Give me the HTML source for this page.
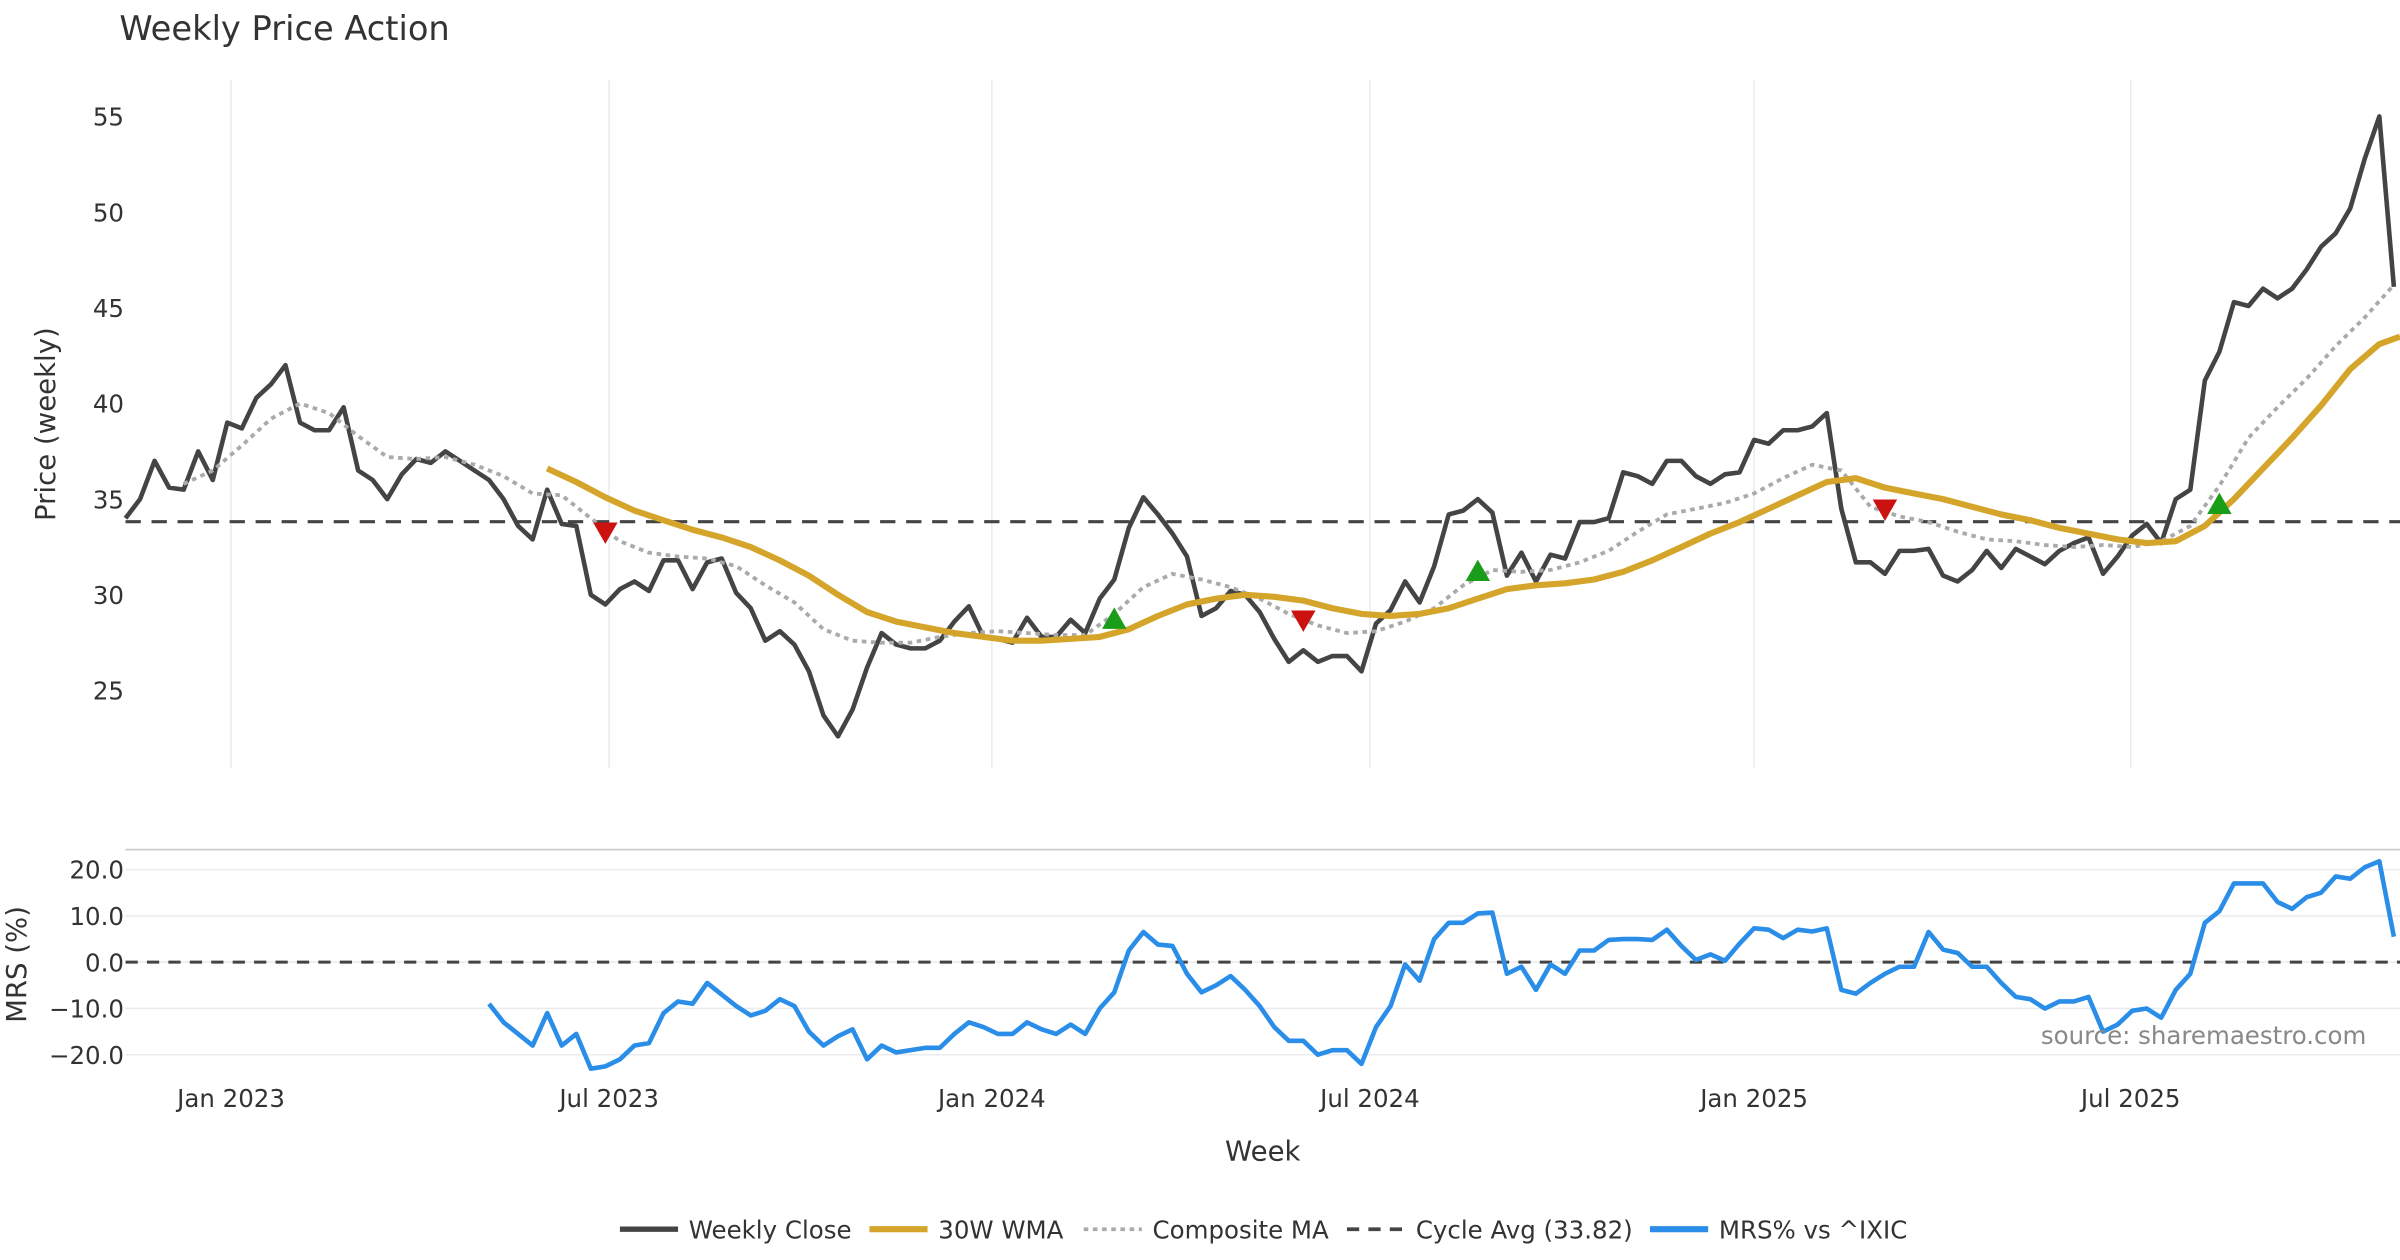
<!DOCTYPE html>
<html><head><meta charset="utf-8"><style>
html,body{margin:0;padding:0;background:#fff}
svg{display:block;font-family:"DejaVu Sans","Liberation Sans",sans-serif}
</style></head><body>
<svg id="chart" width="2400" height="1260" viewBox="0 0 1568 823" xmlns="http://www.w3.org/2000/svg">
<text x="78" y="26" font-size="22" fill="#333">Weekly Price Action</text>
<g id="grid"></g>
<g id="main"></g>
<g id="mrs"></g>
<text transform="translate(36,277) rotate(-90)" text-anchor="middle" font-size="18" fill="#333">Price (weekly)</text>
<text transform="translate(17,630) rotate(-90)" text-anchor="middle" font-size="18" fill="#333">MRS (%)</text>
<text x="825" y="758" text-anchor="middle" font-size="18" fill="#333">Week</text>
<text x="1546" y="682" text-anchor="end" font-size="16" fill="#888">source: sharemaestro.com</text>
<g id="legend"></g>
</svg>
<script>
const closeVals=[34,35,37,35.6,35.5,37.5,36,39,38.7,40.3,
41,42,39,38.6,38.6,39.8,36.5,36,35,36.3,
37.1,36.9,37.5,37,36.5,36,35,33.6,32.9,35.5,
33.7,33.6,30,29.5,30.3,30.7,30.2,31.8,31.8,30.3,
31.7,31.9,30.1,29.3,27.6,28.1,27.4,26,23.7,22.6,
24,26.2,28,27.4,27.2,27.2,27.6,28.6,29.4,27.8,
27.7,27.5,28.8,27.8,27.8,28.7,28,29.8,30.8,33.5,
35.1,34.2,33.2,32,28.9,29.3,30.2,30,29.1,27.7,
26.5,27.1,26.5,26.8,26.8,26,28.5,29.2,30.7,29.6,
31.5,34.2,34.4,35,34.3,31,32.2,30.7,32.1,31.9,
33.8,33.8,34,36.4,36.2,35.8,37,37,36.2,35.8,
36.3,36.4,38.1,37.9,38.6,38.6,38.8,39.5,34.5,31.7,
31.7,31.1,32.3,32.3,32.4,31,30.7,31.3,32.3,31.4,
32.4,32,31.6,32.3,32.7,33,31.1,32,33.1,33.7,
32.7,35,35.5,41.2,42.7,45.3,45.1,46,45.5,46,
47,48.2,48.9,50.2,52.8,55,46.1];
const wmaStart=29;
const wmaVals=[36.6,35.9,35.1,34.4,33.9,33.4,33.0,32.5,31.8,31.0,30.0,29.1,28.6,28.3,28.0,27.8,27.6,27.6,27.7,27.8,28.2,28.9,29.5,29.8,30.0,29.9,29.7,29.3,29.0,28.9,29.0,29.3,29.8,30.3,30.5,30.6,30.8,31.2,31.8,32.5,33.2,33.8,34.5,35.2,35.9,36.1,35.6,35.3,35.0,34.6,34.2,33.9,33.5,33.2,32.9,32.7,32.8,33.6,35.0,36.6,38.2,39.9,41.8,43.1,43.5];
const compStart=4;
const compVals=[35.8,36.5,37.8,39.2,40.0,39.5,38.3,37.2,37.1,37.2,36.8,36.2,35.3,35.2,34.0,32.8,32.2,32.0,31.9,31.5,30.5,29.6,28.2,27.6,27.5,27.5,27.8,28.0,28.1,28.0,27.9,27.9,29.0,30.4,31.1,30.8,30.4,29.8,29.0,28.4,28.0,28.1,28.6,29.3,30.5,31.3,31.2,31.3,31.7,32.3,33.3,34.2,34.5,34.8,35.3,36.1,36.8,36.5,34.6,34.1,33.8,33.3,32.9,32.8,32.6,32.5,32.6,32.5,32.8,33.6,35.7,38.2,39.8,41.3,43,44.5,46.2];
const cycleAvg=33.82;
const buyIdx=[68,93,144];
const buyVals=[28.7,31.2,34.7];
const sellIdx=[33,81,121];
const sellVals=[33.3,28.7,34.5];
const mrsStart=25;
const mrsVals=[-9,-13,-15.5,-18,-11,-18,-15.5,-23,-22.5,-21,
-18,-17.5,-11,-8.5,-9,-4.5,-7,-9.5,-11.5,-10.5,
-8,-9.5,-15,-18,-16,-14.5,-21,-18,-19.5,-19,
-18.5,-18.5,-15.5,-13,-14,-15.5,-15.5,-13,-14.5,-15.5,
-13.5,-15.5,-10,-6.5,2.5,6.5,3.8,3.5,-2.5,-6.5,
-5,-3,-6,-9.5,-14,-17,-17,-20,-19,-19,
-22,-14,-9.5,-0.5,-4,5,8.5,8.5,10.5,10.7,
-2.5,-1,-6,-0.5,-2.5,2.5,2.5,4.8,5,5,
4.8,7,3.5,0.5,1.7,0.3,4,7.3,7,5.2,
7,6.6,7.3,-6,-6.8,-4.5,-2.5,-1,-1,6.5,
2.7,2,-1,-1,-4.5,-7.5,-8,-10,-8.5,-8.5,
-7.5,-15,-13.5,-10.5,-10,-12,-6,-2.5,8.5,11,
17,17,17,13,11.5,14,15,18.5,18,20.5,
21.8,5.5];
const priceTicks=[25,30,35,40,45,50,55];
const mrsTicks=[-20,-10,0,10,20];
const dateLabels=["Jan 2023","Jul 2023","Jan 2024","Jul 2024","Jan 2025","Jul 2025"];
const dateWeeks=[7.26,33.26,59.58,85.58,112,137.9];

const NS="http://www.w3.org/2000/svg";
const X=i=>82+9.5*i;
const Y=p=>76+(55-p)*12.5;
const YM=m=>628.5-3.025*m;
function mk(tag,attrs,parent,txt){const e=document.createElementNS(NS,tag);for(const k in attrs)e.setAttribute(k,attrs[k]);if(txt!==undefined)e.textContent=txt;parent.appendChild(e);return e;}
const grid=document.getElementById('grid'),main=document.getElementById('main'),mrs=document.getElementById('mrs'),leg=document.getElementById('legend');

dateWeeks.forEach((w,k)=>{
  const l=mk('line',{x1:X(w),x2:X(w),y1:52,y2:502,stroke:'#e8ecef','stroke-width':1},grid);
  
  
  const t=mk('text',{x:X(w),y:723,'text-anchor':'middle','font-size':16,fill:'#333'},grid,dateLabels[k]);
  
  
});
priceTicks.forEach(p=>{
  const t=mk('text',{x:81,y:Y(p)+6,'text-anchor':'end','font-size':16,fill:'#333'},grid,String(p));
  
  
});
mrsTicks.forEach(m=>{
  const l=mk('line',{x1:82,x2:1568,y1:YM(m),y2:YM(m),stroke:'#e8ecef','stroke-width':1},grid);
  
  
  const t=mk('text',{x:81,y:YM(m)+6,'text-anchor':'end','font-size':16,fill:'#333'},grid,m.toFixed(1).replace('-','\u2212'));
  
  
});
const border=mk('line',{x1:82,x2:1568,y1:555,y2:555,stroke:'#ccc','stroke-width':1.2},grid);



function path(vals,start,yf){return vals.map((v,k)=>(k?'L':'M')+X(start+k).toFixed(1)+','+yf(v).toFixed(1)).join('');}
function path2(vals,start,step,yf){return vals.map((v,k)=>(k?'L':'M')+Math.min(X(start+k*step),1568).toFixed(1)+','+yf(v).toFixed(1)).join('');}

const cyc=mk('line',{x1:82,x2:1568,y1:Y(cycleAvg),y2:Y(cycleAvg),stroke:'#444','stroke-width':2,'stroke-dasharray':'10 7'},main);


const cp=mk('path',{d:path(closeVals,0,Y),fill:'none',stroke:'#444','stroke-width':3,'stroke-linejoin':'round'},main);


const comp=mk('path',{d:path2(compVals,compStart,2,Y),fill:'none',stroke:'#aaa','stroke-width':2.5,'stroke-dasharray':'3 3'},main);


const wma=mk('path',{d:path2(wmaVals,wmaStart,2,Y),fill:'none',stroke:'#d4a52a','stroke-width':4,'stroke-linejoin':'round'},main);


buyIdx.forEach((i,k)=>{const x=X(i),y=Y(buyVals[k]);
  const m=mk('polygon',{points:`${x-8},${y+6} ${x+8},${y+6} ${x},${y-8}`,fill:'#1a9e1a'},main);
  
  
});
sellIdx.forEach((i,k)=>{const x=X(i),y=Y(sellVals[k]);
  const m=mk('polygon',{points:`${x-8},${y-6} ${x+8},${y-6} ${x},${y+8}`,fill:'#cc1111'},main);
  
  
});

const zl=mk('line',{x1:82,x2:1568,y1:YM(0),y2:YM(0),stroke:'#444','stroke-width':2,'stroke-dasharray':'8 6'},mrs);


const mp=mk('path',{d:path(mrsVals,mrsStart,YM),fill:'none',stroke:'#2a8ee8','stroke-width':3,'stroke-linejoin':'round'},mrs);



const items=[["Weekly Close",'#444',null,3.5],["30W WMA",'#d4a52a',null,4],["Composite MA",'#aaa','3 3',2.5],["Cycle Avg (33.82)",'#444','8 6',2.5],["MRS% vs ^IXIC",'#2a8ee8',null,4]];
const lx=[405,568,708,880,1078];
items.forEach((it,k)=>{
  const g=mk('g',{},leg);
  
  
  mk('line',{x1:lx[k],x2:lx[k]+38,y1:803,y2:803,stroke:it[1],'stroke-width':it[3],'stroke-dasharray':it[2]||'none'},g);
  mk('text',{x:lx[k]+45,y:809,'font-size':16,fill:'#333'},g,it[0]);
});
</script>
</body></html>
